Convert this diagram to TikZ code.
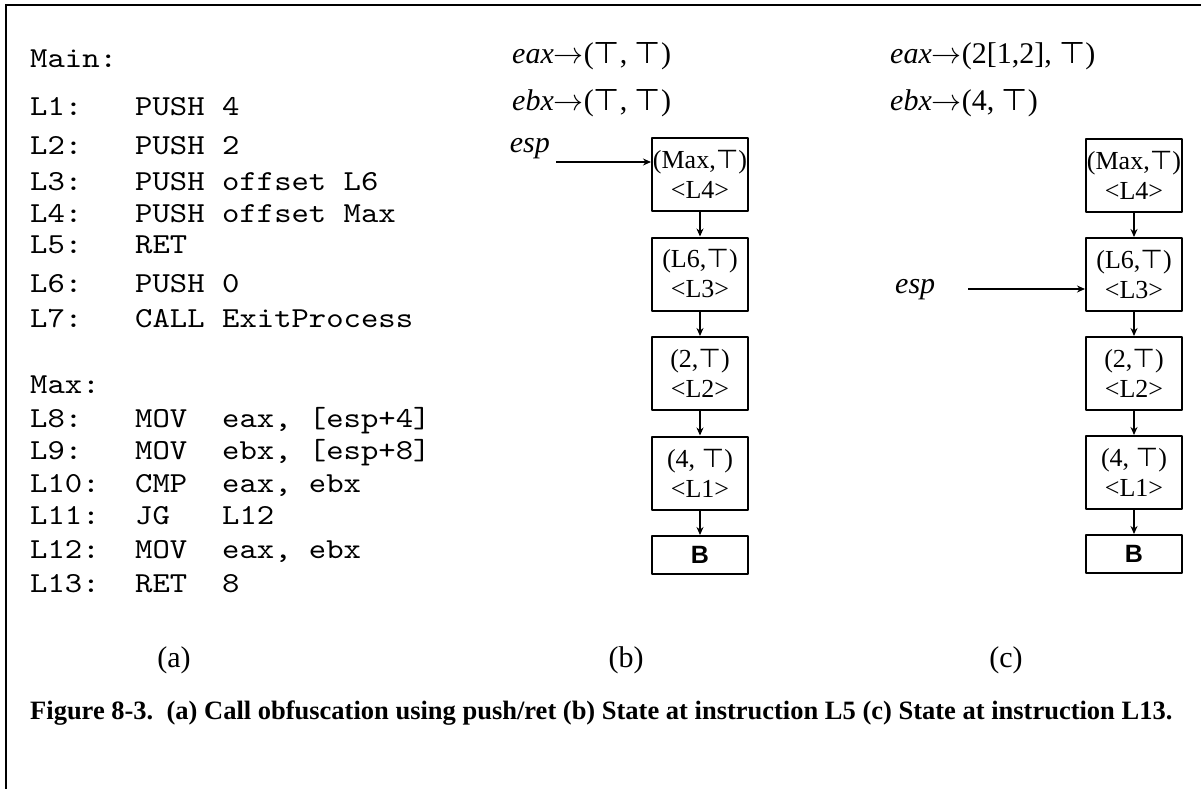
\RequirePackage{fix-cm}
\documentclass[tikz,border=0pt]{standalone}
\usepackage{fontspec}
\setmainfont{Liberation Serif}
\setsansfont{Liberation Sans}
\setmonofont{lmmono10-regular.otf}[FakeStretch=1.14]
\newfontfamily\symb{DejaVu Sans}
\newcommand{\topv}{{\symb ⊤}}
\usetikzlibrary{positioning,arrows.meta}

\begin{document}
\begin{tikzpicture}[x=1pt,y=-1pt,line join=round,>={Stealth[length=8pt,width=7pt]}]
\tikzset{
  code/.style={anchor=base west,inner sep=0pt,font=\ttfamily\fontsize{29}{33}\selectfont},
  reg/.style={anchor=base west,inner sep=0pt,font=\fontsize{30}{36}\selectfont},
  cell/.style={draw,line width=2pt,minimum width=96pt,minimum height=73pt,inner sep=0pt,align=center,font=\fontsize{26}{30}\selectfont},
  basecell/.style={draw,line width=2pt,minimum width=96pt,minimum height=38pt,inner sep=0pt,font=\sffamily\bfseries\fontsize{25}{30}\selectfont},
  link/.style={->,line width=1.5pt}
}
\useasboundingbox (0,0) rectangle (1201,789);
\draw[line width=2.5pt,line join=miter] (6,789) -- (6,5) -- (1201,5);

\node[code] (main) at (30,68) {Main:};
\node[code] (max) at (30,393) {Max:};
\foreach \lab/\opc/\arg/\y in {L1:/PUSH/4/116, L2:/PUSH/2/154, L3:/PUSH/offset L6/190,
    L4:/PUSH/offset Max/222, L5:/RET//253, L6:/PUSH/0/292, L7:/CALL/ExitProcess/327,
    L8:/MOV/{eax, [esp+4]}/427, L9:/MOV/{ebx, [esp+8]}/459, L10:/CMP/{eax, ebx}/492,
    L11:/JG/L12/524, L12:/MOV/{eax, ebx}/558, L13:/RET/8/592}
{
  \node[code] (lab\y) at (30,\y) {\lab};
  \node[code] (opc\y) at (135,\y) {\opc};
  \node[code] (arg\y) at (222,\y) {\arg};
}

\node[reg] (eaxb) at (512,64) {\textit{eax}$\rightarrow$(\topv, \topv)};
\node[reg] (ebxb) at (512,111) {\textit{ebx}$\rightarrow$(\topv, \topv)};
\node[reg,anchor=base east] (espb) at (550,153) {\itshape esp};
\coordinate (espb-from) at (556,162);

\node[cell,anchor=north] (b4) at (700,137) {(Max,\topv)\\<L4>};
\node[cell,below=24.5pt of b4] (b3) {(L6,\topv)\\<L3>};
\node[cell,below=24.5pt of b3] (b2) {(2,\topv)\\<L2>};
\node[cell,below=24.5pt of b2] (b1) {(4, \topv)\\<L1>};
\node[basecell,below=24.5pt of b1] (bb) {B};
\foreach \u/\v in {b4/b3,b3/b2,b2/b1,b1/bb}
  \draw[link] (\u) -- (\v);
\draw[link] (espb-from) -- (espb-from -| b4.west);

\node[reg] (eaxc) at (890,64) {\textit{eax}$\rightarrow$(2[1,2], \topv)};
\node[reg] (ebxc) at (890,111) {\textit{ebx}$\rightarrow$(4, \topv)};
\node[reg] (espc) at (895,293) {\itshape esp};
\coordinate (espc-from) at (968,289);

\node[cell,anchor=north] (c4) at (1134,138) {(Max,\topv)\\<L4>};
\node[cell,below=24pt of c4] (c3) {(L6,\topv)\\<L3>};
\node[cell,below=24pt of c3] (c2) {(2,\topv)\\<L2>};
\node[cell,below=24pt of c2] (c1) {(4, \topv)\\<L1>};
\node[basecell,below=24pt of c1] (cb) {B};
\foreach \u/\v in {c4/c3,c3/c2,c2/c1,c1/cb}
  \draw[link] (\u) -- (\v);
\draw[link] (espc-from) -- (espc-from -| c3.west);

\node[reg,anchor=base] (suba) at (174,667) {(a)};
\node[reg,anchor=base] (subb) at (626,667) {(b)};
\node[reg,anchor=base] (subc) at (1006,667) {(c)};

\node[anchor=base west,inner sep=0pt,font=\bfseries\fontsize{26.5}{30}\selectfont] (caption) at (30,719)
  {Figure 8-3.\ \ (a) Call obfuscation using push/ret (b) State at instruction L5 (c) State at instruction L13.};
\end{tikzpicture}
\end{document}
